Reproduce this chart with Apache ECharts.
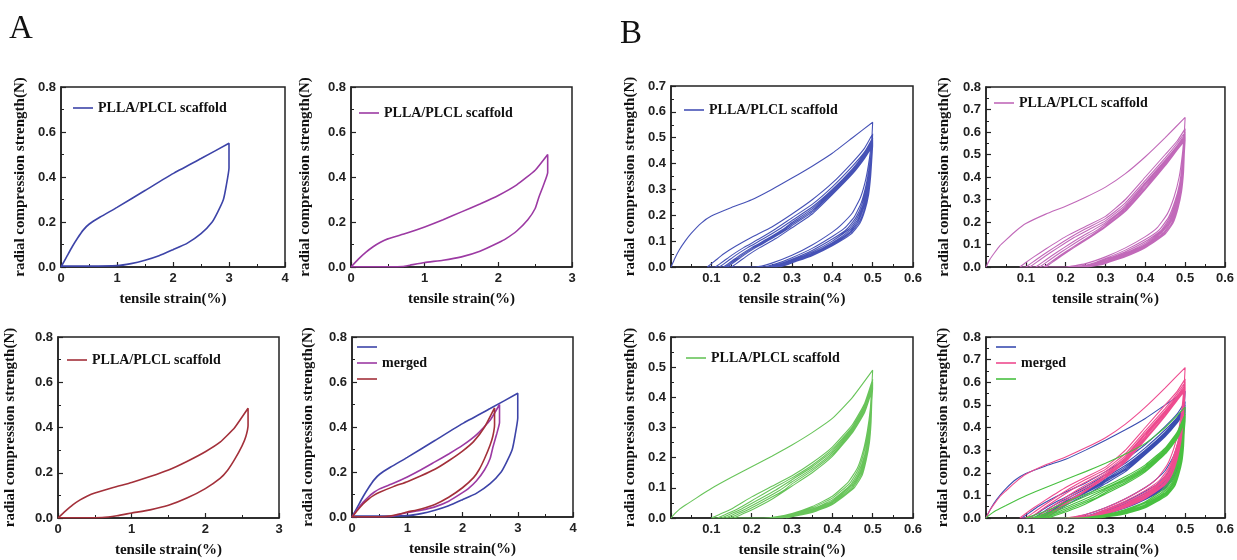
<!DOCTYPE html>
<html><head><meta charset="utf-8">
<script src="https://cdn.jsdelivr.net/npm/echarts@6/dist/echarts.min.js"></script>
<style>html,body{margin:0;padding:0;background:#fff}#c{width:1237px;height:560px}</style>
</head><body><div id="c"></div>
<script>
// ---- texts ----
const panelLetters = ['A', 'B'];
const legendText = 'PLLA/PLCL scaffold';
const mergedText = 'merged';
const yName = 'radial compression strength(N)';
const xName = 'tensile strain(%)';

// ---- A panels: single loading/unloading cycle [strain, force] ----
const curveA1 = [[0,0],[0.1,0.045],[0.2,0.09],[0.3,0.13],[0.4,0.165],[0.5,0.19],[0.7,0.222],[1,0.265],[1.5,0.34],[2,0.415],[2.5,0.482],[3,0.55],[3,0.44],[2.95,0.36],[2.9,0.3],[2.8,0.245],[2.7,0.2],[2.5,0.148],[2.25,0.105],[2,0.077],[1.75,0.05],[1.5,0.03],[1.25,0.015],[1,0.006],[0.5,0.004],[0,0.004]];
const curveA2 = [[0,0],[0.1,0.035],[0.2,0.065],[0.3,0.09],[0.4,0.11],[0.5,0.125],[0.75,0.15],[1,0.178],[1.25,0.21],[1.5,0.245],[1.75,0.28],[2,0.318],[2.25,0.365],[2.5,0.43],[2.67,0.5],[2.67,0.42],[2.62,0.37],[2.55,0.31],[2.5,0.26],[2.4,0.21],[2.25,0.16],[2.1,0.125],[2,0.108],[1.75,0.07],[1.5,0.045],[1.25,0.03],[1,0.02],[0.8,0.008],[0.7,0.002],[0.5,0.001],[0,0.001]];
const curveA3 = [[0,0],[0.1,0.03],[0.2,0.058],[0.3,0.08],[0.4,0.097],[0.5,0.11],[0.75,0.135],[1,0.157],[1.25,0.183],[1.5,0.212],[1.75,0.25],[2,0.293],[2.2,0.335],[2.4,0.4],[2.58,0.485],[2.58,0.41],[2.55,0.36],[2.5,0.32],[2.4,0.26],[2.3,0.21],[2.2,0.175],[2,0.13],[1.75,0.088],[1.5,0.056],[1.25,0.036],[1,0.022],[0.8,0.01],[0.6,0.002],[0.3,0.001],[0,0.001]];

// ---- B panels: repeated cycles [strain, force] ----
const curveB1 = [
[0,0],[0.01,0.035],[0.02,0.065],[0.035,0.1],[0.05,0.13],[0.075,0.17],[0.1,0.197],[0.15,0.23],[0.2,0.26],[0.25,0.3],[0.3,0.344],[0.35,0.39],[0.4,0.44],[0.45,0.5],[0.5,0.56],
[0.498,0.5],[0.492,0.42],[0.483,0.34],[0.47,0.27],[0.45,0.21],[0.42,0.16],[0.4,0.135],[0.35,0.085],[0.3,0.045],[0.25,0.015],[0.21,0],
[0.09,0],[0.11,0.025],[0.13,0.05],[0.16,0.08],[0.2,0.115],[0.25,0.155],[0.3,0.205],[0.35,0.26],[0.4,0.325],[0.45,0.405],[0.48,0.46],[0.5,0.515],
[0.498,0.46],[0.492,0.39],[0.484,0.32],[0.472,0.25],[0.455,0.195],[0.43,0.15],[0.4,0.118],[0.35,0.072],[0.3,0.036],[0.26,0.012],[0.23,0],
[0.11,0],[0.13,0.022],[0.15,0.045],[0.18,0.075],[0.22,0.11],[0.26,0.148],[0.3,0.19],[0.35,0.242],[0.4,0.31],[0.45,0.39],[0.48,0.445],[0.5,0.5],
[0.498,0.45],[0.493,0.38],[0.485,0.31],[0.474,0.245],[0.458,0.19],[0.435,0.145],[0.4,0.108],[0.35,0.064],[0.3,0.03],[0.265,0.01],[0.24,0],
[0.12,0],[0.14,0.022],[0.16,0.045],[0.19,0.075],[0.23,0.11],[0.27,0.148],[0.3,0.18],[0.35,0.232],[0.4,0.3],[0.45,0.38],[0.48,0.44],[0.5,0.49],
[0.498,0.44],[0.493,0.37],[0.486,0.3],[0.476,0.24],[0.46,0.185],[0.44,0.145],[0.4,0.1],[0.35,0.058],[0.3,0.026],[0.27,0.01],[0.245,0],
[0.13,0],[0.15,0.022],[0.17,0.045],[0.2,0.075],[0.24,0.11],[0.28,0.148],[0.3,0.172],[0.35,0.225],[0.4,0.295],[0.45,0.375],[0.48,0.435],[0.5,0.485],
[0.498,0.435],[0.494,0.365],[0.487,0.295],[0.477,0.235],[0.462,0.18],[0.44,0.138],[0.4,0.094],[0.35,0.053],[0.3,0.023],[0.275,0.01],[0.25,0],
[0.135,0],[0.155,0.022],[0.175,0.045],[0.205,0.075],[0.245,0.11],[0.285,0.148],[0.3,0.166],[0.35,0.218],[0.4,0.29],[0.45,0.37],[0.48,0.43],[0.5,0.48],
[0.498,0.43],[0.494,0.36],[0.488,0.29],[0.478,0.23],[0.464,0.176],[0.443,0.135],[0.4,0.09],[0.35,0.05],[0.3,0.02],[0.28,0.01],[0.255,0],
[0.14,0],[0.16,0.022],[0.18,0.045],[0.21,0.075],[0.25,0.11],[0.29,0.148],[0.3,0.16],[0.35,0.212],[0.4,0.286],[0.45,0.365],[0.48,0.425],[0.5,0.475],
[0.498,0.425],[0.495,0.355],[0.489,0.285],[0.48,0.225],[0.466,0.172],[0.445,0.132],[0.4,0.086],[0.35,0.047],[0.3,0.018],[0.285,0.01],[0.26,0],
[0.15,0],[0.17,0.022],[0.19,0.045],[0.22,0.075],[0.26,0.11],[0.3,0.152],[0.35,0.205],[0.4,0.28],[0.45,0.36],[0.48,0.42],[0.5,0.47],
[0.498,0.42],[0.495,0.35],[0.49,0.28],[0.481,0.22],[0.468,0.168],[0.447,0.128],[0.4,0.082],[0.35,0.044],[0.3,0.016],[0.29,0.01],[0.27,0]
];
const curveB2 = [
[0,0],[0.01,0.035],[0.02,0.06],[0.035,0.095],[0.05,0.12],[0.075,0.16],[0.1,0.193],[0.15,0.235],[0.2,0.27],[0.25,0.31],[0.3,0.355],[0.35,0.415],[0.4,0.49],[0.45,0.575],[0.5,0.665],
[0.498,0.6],[0.493,0.5],[0.485,0.4],[0.472,0.31],[0.455,0.235],[0.43,0.175],[0.4,0.135],[0.35,0.085],[0.3,0.045],[0.25,0.015],[0.2,0],
[0.085,0],[0.1,0.02],[0.12,0.045],[0.15,0.08],[0.2,0.135],[0.25,0.18],[0.3,0.225],[0.35,0.3],[0.4,0.4],[0.45,0.5],[0.48,0.56],[0.5,0.615],
[0.498,0.55],[0.493,0.46],[0.486,0.37],[0.474,0.29],[0.458,0.22],[0.435,0.165],[0.4,0.122],[0.35,0.075],[0.3,0.038],[0.26,0.012],[0.22,0],
[0.1,0],[0.12,0.025],[0.14,0.05],[0.17,0.085],[0.21,0.13],[0.25,0.17],[0.3,0.215],[0.35,0.285],[0.4,0.385],[0.45,0.485],[0.48,0.55],[0.5,0.6],
[0.498,0.54],[0.494,0.45],[0.487,0.36],[0.476,0.285],[0.46,0.215],[0.438,0.16],[0.4,0.113],[0.35,0.068],[0.3,0.033],[0.265,0.01],[0.23,0],
[0.11,0],[0.13,0.025],[0.15,0.05],[0.18,0.085],[0.22,0.13],[0.26,0.168],[0.3,0.205],[0.35,0.275],[0.4,0.375],[0.45,0.475],[0.48,0.54],[0.5,0.59],
[0.498,0.53],[0.494,0.44],[0.488,0.355],[0.477,0.28],[0.462,0.21],[0.44,0.157],[0.4,0.106],[0.35,0.062],[0.3,0.028],[0.27,0.01],[0.235,0],
[0.125,0],[0.145,0.025],[0.165,0.05],[0.195,0.085],[0.235,0.13],[0.27,0.165],[0.3,0.197],[0.35,0.267],[0.4,0.368],[0.45,0.468],[0.48,0.535],[0.5,0.58],
[0.498,0.52],[0.495,0.435],[0.489,0.35],[0.478,0.275],[0.464,0.207],[0.442,0.154],[0.4,0.1],[0.35,0.058],[0.3,0.025],[0.275,0.01],[0.24,0],
[0.135,0],[0.155,0.025],[0.175,0.05],[0.205,0.085],[0.245,0.13],[0.28,0.165],[0.3,0.19],[0.35,0.26],[0.4,0.36],[0.45,0.462],[0.48,0.53],[0.5,0.575],
[0.498,0.515],[0.495,0.43],[0.49,0.345],[0.48,0.27],[0.466,0.204],[0.445,0.151],[0.4,0.095],[0.35,0.054],[0.3,0.022],[0.28,0.01],[0.245,0],
[0.145,0],[0.165,0.025],[0.185,0.05],[0.215,0.085],[0.255,0.13],[0.29,0.17],[0.3,0.183],[0.35,0.253],[0.4,0.352],[0.45,0.455],[0.48,0.525],[0.5,0.57],
[0.498,0.51],[0.495,0.425],[0.49,0.34],[0.481,0.265],[0.468,0.2],[0.447,0.148],[0.4,0.09],[0.35,0.05],[0.3,0.019],[0.285,0.01],[0.25,0],
[0.15,0],[0.17,0.025],[0.19,0.05],[0.22,0.085],[0.26,0.13],[0.3,0.178],[0.35,0.247],[0.4,0.345],[0.45,0.45],[0.48,0.52],[0.5,0.565],
[0.498,0.505],[0.496,0.42],[0.491,0.335],[0.482,0.26],[0.47,0.197],[0.449,0.145],[0.4,0.086],[0.35,0.046],[0.3,0.016],[0.29,0.01],[0.255,0]
];
const curveB3 = [
[0,0],[0.01,0.015],[0.02,0.028],[0.035,0.042],[0.05,0.055],[0.075,0.077],[0.1,0.098],[0.15,0.135],[0.2,0.17],[0.25,0.205],[0.3,0.242],[0.35,0.283],[0.4,0.33],[0.45,0.4],[0.5,0.49],
[0.498,0.44],[0.494,0.36],[0.487,0.29],[0.477,0.225],[0.462,0.165],[0.44,0.12],[0.4,0.072],[0.35,0.038],[0.3,0.015],[0.26,0.004],[0.23,0],
[0.1,0],[0.12,0.012],[0.15,0.03],[0.2,0.07],[0.25,0.105],[0.3,0.14],[0.35,0.183],[0.4,0.235],[0.45,0.31],[0.48,0.38],[0.5,0.46],
[0.498,0.42],[0.494,0.345],[0.488,0.28],[0.478,0.215],[0.464,0.16],[0.443,0.115],[0.4,0.066],[0.35,0.034],[0.3,0.012],[0.27,0.004],[0.245,0],
[0.115,0],[0.135,0.012],[0.165,0.03],[0.21,0.065],[0.25,0.096],[0.3,0.133],[0.35,0.175],[0.4,0.228],[0.45,0.303],[0.48,0.372],[0.5,0.45],
[0.498,0.41],[0.495,0.335],[0.489,0.27],[0.48,0.208],[0.466,0.155],[0.445,0.11],[0.4,0.06],[0.35,0.03],[0.3,0.01],[0.275,0.004],[0.255,0],
[0.125,0],[0.145,0.012],[0.175,0.03],[0.22,0.063],[0.26,0.093],[0.3,0.127],[0.35,0.169],[0.4,0.222],[0.45,0.298],[0.48,0.366],[0.5,0.445],
[0.498,0.405],[0.495,0.33],[0.49,0.265],[0.481,0.204],[0.468,0.151],[0.447,0.107],[0.4,0.056],[0.35,0.027],[0.3,0.008],[0.28,0.003],[0.26,0],
[0.135,0],[0.155,0.012],[0.185,0.03],[0.23,0.062],[0.27,0.092],[0.3,0.12],[0.35,0.163],[0.4,0.216],[0.45,0.293],[0.48,0.36],[0.5,0.44],
[0.498,0.4],[0.495,0.325],[0.49,0.26],[0.482,0.2],[0.47,0.148],[0.449,0.104],[0.4,0.052],[0.35,0.024],[0.3,0.007],[0.285,0.003],[0.265,0],
[0.145,0],[0.165,0.012],[0.195,0.03],[0.24,0.062],[0.28,0.092],[0.3,0.113],[0.35,0.157],[0.4,0.21],[0.45,0.288],[0.48,0.355],[0.5,0.435],
[0.498,0.395],[0.496,0.32],[0.491,0.255],[0.483,0.196],[0.472,0.145],[0.451,0.101],[0.4,0.048],[0.35,0.021],[0.3,0.005],[0.29,0.003],[0.275,0],
[0.155,0],[0.175,0.012],[0.205,0.03],[0.25,0.062],[0.3,0.106],[0.35,0.15],[0.4,0.204],[0.45,0.283],[0.48,0.35],[0.5,0.43],
[0.498,0.39],[0.496,0.315],[0.492,0.25],[0.484,0.192],[0.474,0.142],[0.453,0.098],[0.4,0.045],[0.35,0.018],[0.3,0.004],[0.285,0]
];

// ---- axis ranges ----
const xRangeA = [[0,4,1],[0,3,1],[0,3,1],[0,4,1]];
const yRangeA = [0,0.8,0.2];
const xRangeB = [0,0.6,0.1];
const yRangesB = [[0,0.7,0.1],[0,0.8,0.1],[0,0.6,0.1],[0,0.8,0.1]];

// ---- colours ----
const colA = ['#3d44a8', '#9c3aa3', '#a3303a'];
const colB = ['#4652b6', '#c169b9', '#68c45a'];
const colMergedB = ['#3a4db0', '#ee4b8f', '#48c040'];

// ---- layout (plot boxes: left, top, width, height; y-name gap) ----
const boxes = [
  {l:61, t:87, w:224, h:180, gap:33},   // A1
  {l:351, t:87, w:221, h:180, gap:38},  // A2
  {l:58, t:337, w:221, h:181, gap:40},  // A3
  {l:352, t:337, w:221, h:180, gap:36}, // A4
  {l:671, t:86, w:242, h:181, gap:33},  // B1
  {l:986, t:87, w:240, h:180, gap:34},  // B2
  {l:671, t:337, w:242, h:181, gap:33}, // B3
  {l:986, t:337, w:242, h:181, gap:35}  // B4
];
const legendPos = [
  {l:73, t:101}, {l:359, t:106}, {l:67, t:353}, {l:357, t:340},
  {l:684, t:103}, {l:994, t:96}, {l:686, t:351}, {l:996, t:340}
];

const AX = '#222';
const serif = 'Liberation Serif';
const sans = 'Liberation Sans';

function makeX(i, r, hideZero) {
  return {
    type:'value', gridIndex:i, min:r[0], max:r[1], interval:r[2],
    name:xName, nameLocation:'middle', nameGap:25,
    nameTextStyle:{fontFamily:serif, fontWeight:'bold', fontSize:15, color:'#111'},
    axisLine:{show:true, onZero:false, lineStyle:{color:AX, width:1.5}},
    axisTick:{show:true, inside:true, length:5, lineStyle:{color:AX, width:1.2}},
    minorTick:{show:true, splitNumber:2, length:3, lineStyle:{color:AX, width:1}},
    splitLine:{show:false},
    axisLabel:{fontFamily:sans, fontWeight:'bold', fontSize:13, color:'#222', margin:5,
      formatter: v => hideZero ? (v === 0 ? '' : v.toFixed(1)) : String(v)}
  };
}
function makeY(i, r, gap) {
  return {
    type:'value', gridIndex:i, min:r[0], max:r[1], interval:r[2],
    name:yName, nameLocation:'middle', nameGap:gap,
    nameTextStyle:{fontFamily:serif, fontWeight:'bold', fontSize:15, color:'#111'},
    axisLine:{show:true, onZero:false, lineStyle:{color:AX, width:1.5}},
    axisTick:{show:true, inside:true, length:5, lineStyle:{color:AX, width:1.2}},
    minorTick:{show:true, splitNumber:2, length:3, lineStyle:{color:AX, width:1}},
    splitLine:{show:false},
    axisLabel:{fontFamily:sans, fontWeight:'bold', fontSize:13, color:'#222', margin:5,
      formatter: v => v.toFixed(1)}
  };
}

const grids = boxes.map(b => ({left:b.l, top:b.t, width:b.w, height:b.h, show:true,
  borderColor:AX, borderWidth:1.5, backgroundColor:'transparent'}));
const xAxes = [], yAxes = [];
for (let i = 0; i < 4; i++) { xAxes.push(makeX(i, xRangeA[i], false)); yAxes.push(makeY(i, yRangeA, boxes[i].gap)); }
for (let i = 0; i < 4; i++) { xAxes.push(makeX(4+i, xRangeB, true)); yAxes.push(makeY(4+i, yRangesB[i], boxes[4+i].gap)); }

const series = [];
function addSeries(name, idx, data, color, width) {
  series.push({type:'line', name, xAxisIndex:idx, yAxisIndex:idx, data, symbol:'none',
    smooth:0.15, lineStyle:{color, width}, itemStyle:{color}, animation:false, clip:true});
}
addSeries('a1', 0, curveA1, colA[0], 1.6);
addSeries('a2', 1, curveA2, colA[1], 1.6);
addSeries('a3', 2, curveA3, colA[2], 1.6);
addSeries('a4-1', 3, curveA1, colA[0], 1.6);
addSeries('a4-2', 3, curveA2, colA[1], 1.6);
addSeries('a4-3', 3, curveA3, colA[2], 1.6);
addSeries('b1', 4, curveB1, colB[0], 1.1);
addSeries('b2', 5, curveB2, colB[1], 1.1);
addSeries('b3', 6, curveB3, colB[2], 1.1);
addSeries('b4-1', 7, curveB1, colMergedB[0], 1.1);
addSeries('b4-2', 7, curveB2, colMergedB[1], 1.1);
addSeries('b4-3', 7, curveB3, colMergedB[2], 1.1);

const legendNames = [['a1'],['a2'],['a3'],['a4-1','a4-2','a4-3'],['b1'],['b2'],['b3'],['b4-1','b4-2','b4-3']];
const legends = legendNames.map((names, i) => ({
  data:names.map(n => ({name:n, icon:'rect'})), left:legendPos[i].l, top:legendPos[i].t, orient:'vertical',
  itemWidth:20, itemHeight:1.6, itemGap:2, padding:0, selectedMode:false,
  textStyle:{fontFamily:serif, fontWeight:'bold', fontSize:14, color:'#111', lineHeight:13},
  formatter: n => names.length === 1 ? legendText : (n === names[1] ? mergedText : '\u00a0')
}));

const titles = [
  {text:panelLetters[0], left:9, top:13, padding:0, textStyle:{fontFamily:serif, fontWeight:'normal', fontSize:33, color:'#111'}},
  {text:panelLetters[1], left:620, top:18, padding:0, textStyle:{fontFamily:serif, fontWeight:'normal', fontSize:33, color:'#111'}}
];

const chart = echarts.init(document.getElementById('c'), null, {renderer:'canvas'});
chart.setOption({animation:false, backgroundColor:'#fff', title:titles, legend:legends,
  grid:grids, xAxis:xAxes, yAxis:yAxes, series});
</script></body></html>
